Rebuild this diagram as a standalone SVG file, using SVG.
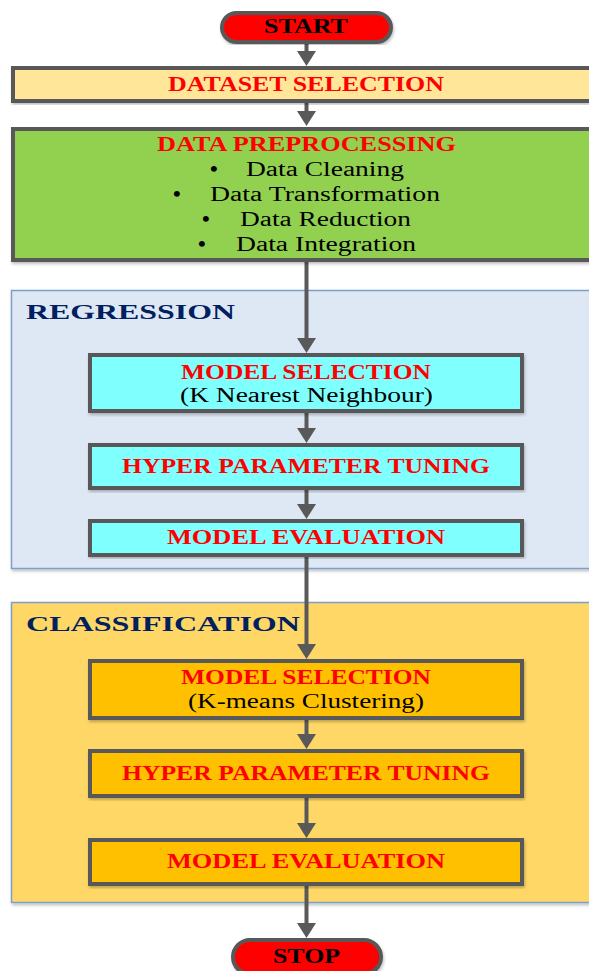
<svg xmlns="http://www.w3.org/2000/svg" width="589" height="971" viewBox="0 0 589 971">
  <style>
    .box { stroke: #595959; stroke-width: 4; }
    .pill { fill: #ff0000; stroke: #595959; stroke-width: 4; }
    .head { font-family: "Liberation Serif", "Times New Roman", serif; font-weight: bold; font-size: 21px; fill: #ff0000; text-anchor: middle; }
    .sub { font-family: "Liberation Serif", "Times New Roman", serif; font-size: 20px; fill: #000000; text-anchor: middle; }
    .item { font-family: "Liberation Serif", "Times New Roman", serif; font-size: 20px; fill: #000000; }
    .dot { font-size: 22px; font-weight: bold; }
    .term { font-family: "Liberation Serif", "Times New Roman", serif; font-weight: bold; font-size: 20px; fill: #000000; text-anchor: middle; }
    .title { font-family: "Liberation Serif", "Times New Roman", serif; font-weight: bold; font-size: 22px; fill: #002060; }
    .link { stroke: #595959; stroke-width: 4; fill: none; marker-end: url(#head); }
  </style>
  <defs>
    <marker id="head" markerUnits="userSpaceOnUse" markerWidth="16" markerHeight="20" refX="0" refY="9.5" orient="auto" overflow="visible">
      <path d="M0,0 L15,9.5 L0,19 Z" fill="#595959"/>
    </marker>
    <filter id="shadow" x="-5%" y="-5%" width="110%" height="115%">
      <feDropShadow dx="1" dy="2" stdDeviation="1.5" flood-color="#000000" flood-opacity="0.25"/>
    </filter>
  </defs>

  <rect width="589" height="971" fill="#ffffff"/>

  <!-- section panels -->
  <g id="regression-panel">
    <rect x="11.5" y="290.5" width="600" height="278" fill="#dee8f5" stroke="#7da0cb" stroke-width="1.5" filter="url(#shadow)"/>
    <text class="title" x="26" y="319" textLength="209" lengthAdjust="spacingAndGlyphs">REGRESSION</text>
  </g>
  <g id="classification-panel">
    <rect x="11.5" y="602.5" width="600" height="300" fill="#fed766" stroke="#7da0cb" stroke-width="1.5" filter="url(#shadow)"/>
    <text class="title" x="26" y="631" textLength="274" lengthAdjust="spacingAndGlyphs">CLASSIFICATION</text>
  </g>

  <!-- connectors -->
  <g id="connectors">
    <line class="link" x1="306.5" y1="43" x2="306.5" y2="51"/>
    <line class="link" x1="306.5" y1="103" x2="306.5" y2="111"/>
    <line class="link" x1="306.5" y1="262" x2="306.5" y2="338"/>
    <line class="link" x1="306.5" y1="413" x2="306.5" y2="428"/>
    <line class="link" x1="306.5" y1="490" x2="306.5" y2="504"/>
    <line class="link" x1="306.5" y1="557" x2="306.5" y2="644"/>
    <line class="link" x1="306.5" y1="720" x2="306.5" y2="734"/>
    <line class="link" x1="306.5" y1="798" x2="306.5" y2="823"/>
    <line class="link" x1="306.5" y1="886" x2="306.5" y2="923"/>
  </g>

  <!-- nodes -->
  <g id="start">
    <rect class="pill" x="222" y="13" width="169" height="29" rx="14.5" filter="url(#shadow)"/>
    <text class="term" x="306" y="33" textLength="84" lengthAdjust="spacingAndGlyphs">START</text>
  </g>

  <g id="dataset-selection">
    <rect class="box" x="13" y="68" width="600" height="33" fill="#ffe699" filter="url(#shadow)"/>
    <text class="head" x="306" y="91" textLength="276" lengthAdjust="spacingAndGlyphs">DATASET SELECTION</text>
  </g>

  <g id="data-preprocessing">
    <rect class="box" x="13" y="129" width="600" height="131" fill="#92d050" filter="url(#shadow)"/>
    <text class="head" x="306.5" y="151" font-size="22" textLength="299" lengthAdjust="spacingAndGlyphs">DATA PREPROCESSING</text>
    <text class="item" x="210" y="176"><tspan class="dot">•</tspan><tspan x="246" y="176" textLength="158" lengthAdjust="spacingAndGlyphs">Data Cleaning</tspan></text>
    <text class="item" x="173" y="201"><tspan class="dot">•</tspan><tspan x="210" y="201" textLength="230" lengthAdjust="spacingAndGlyphs">Data Transformation</tspan></text>
    <text class="item" x="202" y="226"><tspan class="dot">•</tspan><tspan x="240" y="226" textLength="171" lengthAdjust="spacingAndGlyphs">Data Reduction</tspan></text>
    <text class="item" x="198" y="251"><tspan class="dot">•</tspan><tspan x="236" y="251" textLength="180" lengthAdjust="spacingAndGlyphs">Data Integration</tspan></text>
  </g>

  <g id="knn-model-selection">
    <rect class="box" x="90" y="355" width="432" height="56" fill="#80ffff" filter="url(#shadow)"/>
    <text class="head" x="306" y="379" textLength="250" lengthAdjust="spacingAndGlyphs">MODEL SELECTION</text>
    <text class="sub" x="306.5" y="402" textLength="253" lengthAdjust="spacingAndGlyphs">(K Nearest Neighbour)</text>
  </g>

  <g id="knn-tuning">
    <rect class="box" x="90" y="445" width="432" height="43" fill="#80ffff" filter="url(#shadow)"/>
    <text class="head" x="306" y="473" textLength="368" lengthAdjust="spacingAndGlyphs">HYPER PARAMETER TUNING</text>
  </g>

  <g id="knn-evaluation">
    <rect class="box" x="90" y="521" width="432" height="34" fill="#80ffff" filter="url(#shadow)"/>
    <text class="head" x="306" y="544" textLength="278" lengthAdjust="spacingAndGlyphs">MODEL EVALUATION</text>
  </g>

  <g id="kmeans-model-selection">
    <rect class="box" x="90" y="661" width="432" height="57" fill="#ffc000" filter="url(#shadow)"/>
    <text class="head" x="306" y="684" textLength="250" lengthAdjust="spacingAndGlyphs">MODEL SELECTION</text>
    <text class="sub" x="306" y="708" textLength="236" lengthAdjust="spacingAndGlyphs">(K-means Clustering)</text>
  </g>

  <g id="kmeans-tuning">
    <rect class="box" x="90" y="751" width="432" height="45" fill="#ffc000" filter="url(#shadow)"/>
    <text class="head" x="306" y="780" textLength="368" lengthAdjust="spacingAndGlyphs">HYPER PARAMETER TUNING</text>
  </g>

  <g id="kmeans-evaluation">
    <rect class="box" x="90" y="840" width="432" height="44" fill="#ffc000" filter="url(#shadow)"/>
    <text class="head" x="306" y="868" textLength="278" lengthAdjust="spacingAndGlyphs">MODEL EVALUATION</text>
  </g>

  <g id="stop">
    <rect class="pill" x="233" y="940" width="148" height="34" rx="17" filter="url(#shadow)"/>
    <text class="term" x="306.5" y="963" textLength="67" lengthAdjust="spacingAndGlyphs">STOP</text>
  </g>
</svg>
